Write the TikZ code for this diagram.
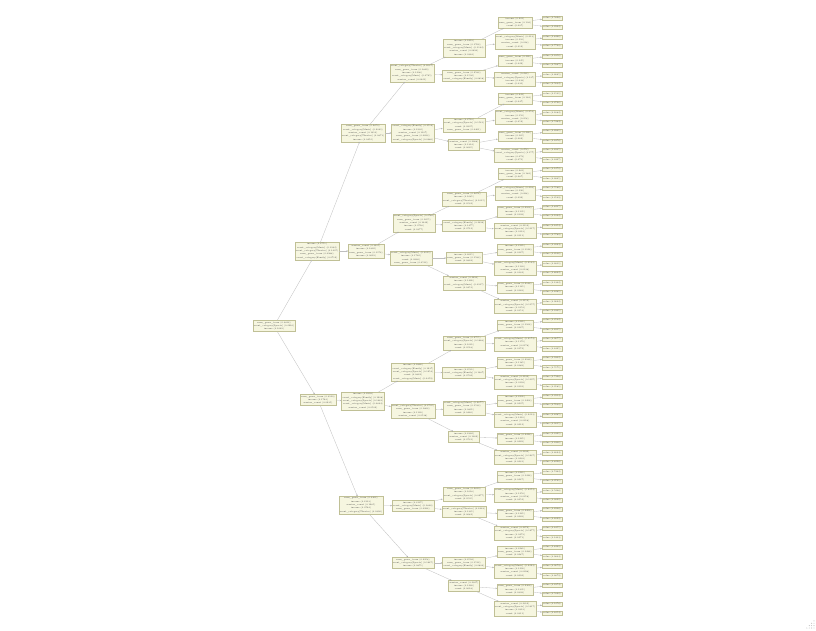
\documentclass[tikz,border=0pt]{standalone}
\usetikzlibrary{arrows.meta,calc}
\definecolor{boxfill}{RGB}{246,246,224}
\definecolor{boxline}{RGB}{192,192,150}
\definecolor{edgegray}{RGB}{190,190,190}
\tikzset{
  split/.style={draw=boxline, fill=boxfill, line width=0.3pt, inner sep=1.1pt,
    align=center, text=black!75, font=\fontsize{2.1}{3.3}\selectfont},
  leaf/.style={split},
  link/.style={draw=edgegray, line width=0.3pt, -{Stealth[length=1.6pt,width=1.5pt,fill=black!65]}},
}

\begin{document}
\begin{tikzpicture}[x=1pt,y=-1pt]
  \fill[white] (0,0) rectangle (816,630);
  \useasboundingbox (0,0) rectangle (816,630);

  % root and first splits
  \node[split] (a) at (274,326) {runs\_game\_team (0.3814)\\event\_category[Sports] (0.2216)\\income (0.1049)};
  \node[split] (b0) at (317,251) {income (0.2751)\\event\_category[Music] (0.1932)\\event\_category[Theatre] (0.1407)\\runs\_game\_team (0.0988)\\event\_category[Family] (0.0712)};
  \node[split] (b1) at (318,400) {runs\_game\_team (0.3120)\\income (0.1764)\\session\_count (0.0935)};

  % level 2
  \node[split] (c0) at (363,133) {runs\_game\_team (0.2870)\\event\_category[Music] (0.2041)\\session\_count (0.1310)\\event\_category[Theatre] (0.0871)\\income (0.0452)};
  \node[split] (c1) at (366,251) {session\_count (0.3305)\\income (0.1822)\\runs\_game\_team (0.1174)\\income (0.0619)};
  \node[split] (c2) at (363,401) {income (0.2993)\\event\_category[Family] (0.1908)\\event\_category[Sports] (0.1461)\\event\_category[Music] (0.0834)\\session\_count (0.0502)};
  \node[split] (c3) at (361,505) {runs\_game\_team (0.3362)\\income (0.2113)\\session\_count (0.1285)\\income (0.0744)\\event\_category[Theatre] (0.0390)};

  % level 3
  \node[split] (d0) at (412,73) {event\_category[Theatre] (0.2637)\\runs\_game\_team (0.1849)\\income (0.1208)\\event\_category[Music] (0.0765)\\session\_count (0.0421)};
  \node[split] (d1) at (413,133) {event\_category[Family] (0.2514)\\income (0.1932)\\session\_count (0.1107)\\runs\_game\_team (0.0693)\\event\_category[Sports] (0.0386)};
  \node[split] (d2) at (414,223) {event\_category[Sports] (0.2780)\\runs\_game\_team (0.1655)\\session\_count (0.1049)\\income (0.0718)\\count (0.0377)};
  \node[split] (d3) at (411,258) {event\_category[Music] (0.3011)\\income (0.1742)\\count (0.0960)\\runs\_game\_team (0.0512)};
  \node[split] (d4) at (413,372) {income (0.2846)\\event\_category[Family] (0.1937)\\event\_category[Sports] (0.1254)\\count (0.0822)\\event\_category[Music] (0.0459)};
  \node[split] (d5) at (413,411) {event\_category[Theatre] (0.2705)\\runs\_game\_team (0.1863)\\income (0.1120)\\session\_count (0.0538)};
  \node[split] (d6) at (413,506) {income (0.3127)\\event\_category[Music] (0.1806)\\runs\_game\_team (0.0994)};
  \node[split] (d7) at (413,563) {runs\_game\_team (0.2958)\\event\_category[Sports] (0.1647)\\income (0.0871)};

  % level 4
  \node[split] (e0) at (464,48) {income (0.2419)\\runs\_game\_team (0.1766)\\event\_category[Music] (0.1132)\\session\_count (0.0690)\\income (0.0344)};
  \node[split] (e1) at (464,76) {runs\_game\_team (0.2583)\\income (0.1502)\\event\_category[Family] (0.0818)};
  \node[split] (e2) at (464,125) {income (0.2710)\\event\_category[Sports] (0.1541)\\count (0.0907)\\runs\_game\_team (0.0461)};
  \node[split] (e3) at (464,145) {session\_count (0.2288)\\income (0.1314)\\count (0.0665)};
  \node[split] (e4) at (464,199) {runs\_game\_team (0.2874)\\income (0.1685)\\event\_category[Theatre] (0.1015)\\count (0.0532)};
  \node[split] (e5) at (464,226) {event\_category[Family] (0.2396)\\income (0.1477)\\count (0.0712)};
  \node[split] (e6) at (464,258) {income (0.2615)\\runs\_game\_team (0.1583)\\count (0.0824)};
  \node[split] (e7) at (464,283) {session\_count (0.2490)\\income (0.1426)\\event\_category[Music] (0.0917)\\count (0.0451)};
  \node[split] (e8) at (464,343) {runs\_game\_team (0.2755)\\event\_category[Sports] (0.1648)\\income (0.1021)\\count (0.0518)};
  \node[split] (e9) at (464,373) {income (0.2531)\\event\_category[Family] (0.1387)\\count (0.0702)};
  \node[split] (e10) at (464,408) {event\_category[Music] (0.2677)\\runs\_game\_team (0.1533)\\income (0.0895)\\count (0.0440)};
  \node[split] (e11) at (464,437) {income (0.2362)\\session\_count (0.1409)\\count (0.0731)};
  \node[split] (e12) at (464,494) {runs\_game\_team (0.2810)\\income (0.1618)\\event\_category[Sports] (0.0977)\\count (0.0505)};
  \node[split] (e13) at (464,512) {event\_category[Theatre] (0.2443)\\income (0.1335)\\count (0.0682)};
  \node[split] (e14) at (464,563) {income (0.2594)\\runs\_game\_team (0.1512)\\event\_category[Family] (0.0803)};
  \node[split] (e15) at (464,586) {session\_count (0.2327)\\income (0.1260)\\count (0.0618)};

  % level 5
  \foreach \k in {0,...,31} {
    \pgfmathsetmacro\yy{22.7+18.9*\k}
    \pgfmathtruncatemacro\kind{mod(\k,4)}
    \ifcase\kind
      \node[split] (f\k) at (515,\yy) {income (0.2\k1)\\runs\_game\_team (0.1\k4)\\count (0.0\k7)};
    \or
      \node[split] (f\k) at (515,\yy) {event\_category[Music] (0.2\k3)\\income (0.1\k0)\\session\_count (0.0\k8)\\count (0.0\k2)};
    \or
      \node[split] (f\k) at (515,\yy) {runs\_game\_team (0.2\k6)\\income (0.1\k5)\\count (0.0\k9)};
    \else
      \node[split] (f\k) at (515,\yy) {session\_count (0.2\k2)\\event\_category[Sports] (0.1\k7)\\income (0.0\k3)\\count (0.0\k1)};
    \fi
  }

  % leaves
  \pgfmathsetseed{41}
  \foreach \i in {0,...,63} {
    \pgfmathsetmacro\yy{18+9.45*\i}
    \pgfmathtruncatemacro\vv{1000+int(rnd*8999)}
    \node[leaf] (g\i) at (552,\yy) {value (0.\vv)};
  }

  % connectors
  \foreach \k in {0,1} \draw[link] (a) -- (b\k);
  \foreach \k in {0,...,3} {\pgfmathtruncatemacro\p{div(\k,2)} \draw[link] (b\p) -- (c\k);}
  \foreach \k in {0,...,7} {\pgfmathtruncatemacro\p{div(\k,2)} \draw[link] (c\p) -- (d\k);}
  \foreach \k in {0,...,15} {\pgfmathtruncatemacro\p{div(\k,2)} \draw[link] (d\p) -- (e\k);}
  \foreach \k in {0,...,31} {\pgfmathtruncatemacro\p{div(\k,2)} \draw[link] (e\p) -- (f\k);}
  \foreach \k in {0,...,63} {\pgfmathtruncatemacro\p{div(\k,2)} \draw[link] (f\p) -- (g\k);}

  % resize grip
  \foreach \r in {0,...,3} \foreach \c in {0,...,\r}
    \fill[gray!70] ({814-2.4*\c},{628-2.4*(3-\r)}) circle (0.45);
\end{tikzpicture}
\end{document}
